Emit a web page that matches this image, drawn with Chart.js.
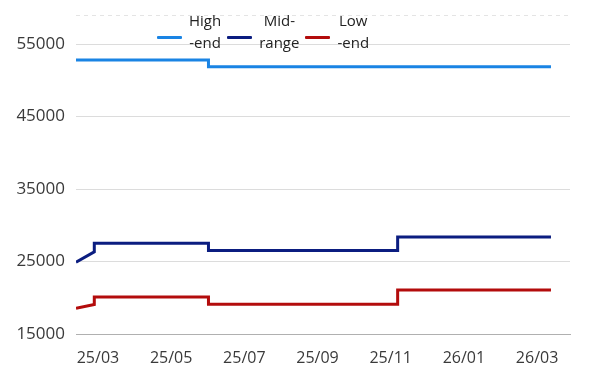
<!DOCTYPE html>
<html>
<head>
<meta charset="utf-8">
<script src="https://cdn.jsdelivr.net/npm/chart.js@4"></script>
<style>
  body { margin: 0; background: #fff; }
  #wrap { position: relative; width: 600px; height: 387px; }
  #legend {
    position: absolute; top: 9px; left: 157px;
    display: flex; align-items: flex-start;
    font-family: "Open Sans", sans-serif; font-size: 15px; color: #222;
  }
  .item { display: flex; align-items: flex-start; margin-right: 6px; }
  .swatch { width: 25px; height: 3px; margin-top: 27px; margin-right: 7px; border-radius: 1px; }
  .label { line-height: 22px; text-align: center; }
</style>
</head>
<body>
<div id="wrap">
  <canvas id="chart"></canvas>
  <div id="legend"></div>
</div>
<script>
// x positions in months (3 = 2025/03, 15 = 2026/03)
const months = [2.40, 2.90, 2.90, 6.02, 6.02, 11.19, 11.19, 15.38];
const highEnd = [52800, 52800, 52800, 52800, 51850, 51850, 51850, 51850];
const midRange = [24900, 26320, 27520, 27520, 26530, 26530, 28390, 28390];
const lowEnd = [18550, 19070, 20120, 20120, 19110, 19110, 21080, 21080];

const tickMonths = [3, 5, 7, 9, 11, 13, 15];
const tickLabels = ["25/03", "25/05", "25/07", "25/09", "25/11", "26/01", "26/03"];
const yTicks = [15000, 25000, 35000, 45000, 55000];
const yTop = 59000;

const seriesNames = [["High", "-end"], ["Mid-", "range"], ["Low", "-end"]];
const seriesColors = ["#1a84e4", "#0b1d80", "#b30c0c"];
const seriesData = [highEnd, midRange, lowEnd];

function points(values) {
  return values.map((v, i) => ({ x: months[i], y: v }));
}

const datasets = seriesData.map((vals, i) => ({
  label: seriesNames[i].join(""),
  data: points(vals),
  borderColor: seriesColors[i],
  backgroundColor: seriesColors[i],
  borderWidth: 3,
  pointRadius: 0,
  tension: 0,
  fill: false
}));

// html legend (two-line labels)
document.getElementById("legend").innerHTML = seriesNames.map((n, i) => `
  <div class="item">
    <div class="swatch" style="background:${seriesColors[i]}"></div>
    <div class="label">${n[0]}<br>${n[1]}</div>
  </div>`).join("");

new Chart(document.getElementById("chart"), {
  type: "line",
  data: { datasets },
  options: {
    responsive: true,
    maintainAspectRatio: false,
    animation: false,
    layout: { padding: { top: 15, right: 30, left: 0, bottom: 0 } },
    plugins: { legend: { display: false }, tooltip: { enabled: false } },
    scales: {
      x: {
        type: "linear",
        min: 2.4,
        max: 15.9,
        afterBuildTicks: s => { s.ticks = tickMonths.map(v => ({ value: v })); },
        afterFit: s => { s.height = 53; },
        grid: { display: false },
        border: { display: true, color: "#b0b0b0", width: 1 },
        ticks: {
          padding: 7,
          color: "#3a3a3a",
          font: { family: "Open Sans", size: 16 },
          callback: v => tickLabels[tickMonths.indexOf(v)] || ""
        }
      },
      y: {
        min: 15000,
        max: yTop,
        afterBuildTicks: s => { s.ticks = [...yTicks, yTop].map(v => ({ value: v })); },
        afterFit: s => { s.width = 76; s.paddingTop = 0; s.paddingBottom = 0; },
        grid: {
          drawTicks: false,
          color: ctx => ctx.tick && ctx.tick.value === yTop ? "#e4e4e4" : "#dcdcdc"
        },
        border: {
          display: false,
          dash: ctx => ctx.tick && ctx.tick.value === yTop ? [4, 4] : []
        },
        ticks: {
          padding: 11,
          color: "#3a3a3a",
          font: { family: "Open Sans", size: 17 },
          callback: v => v === yTop ? "" : String(v)
        }
      }
    }
  }
});
</script>
</body>
</html>
